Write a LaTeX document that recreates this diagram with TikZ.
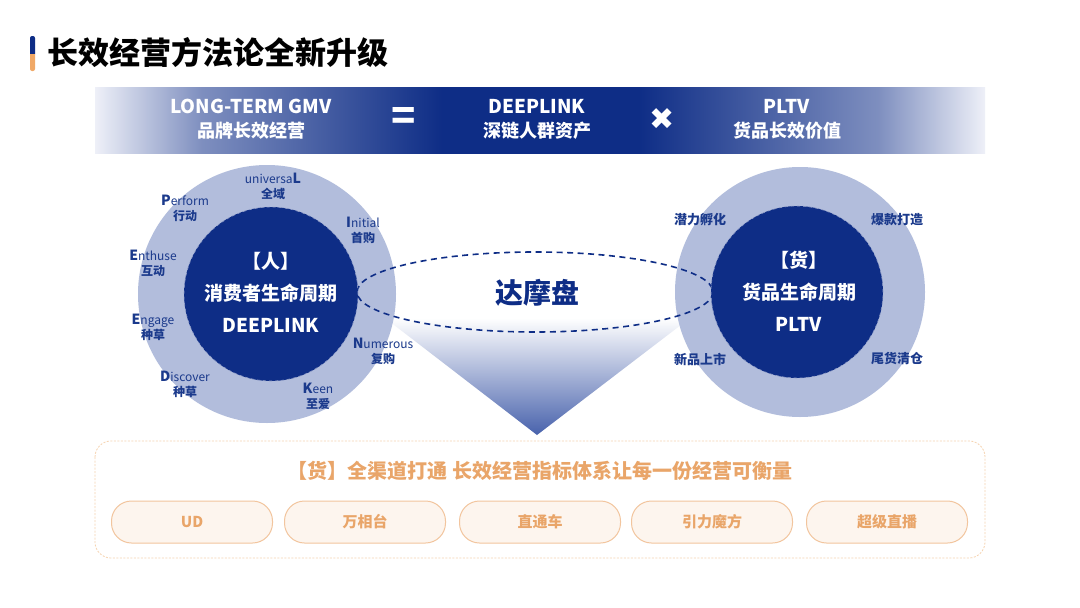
\documentclass[tikz,border=0pt]{standalone}
\usepackage{fontspec}
\setmainfont{Noto Sans CJK SC}
\newfontfamily\symfont{DejaVu Sans}
\usetikzlibrary{shapes.geometric}
\definecolor{navy}{HTML}{0E2D86}
\definecolor{banlight}{HTML}{EEF0F8}
\definecolor{ringc}{HTML}{B2BDDC}
\definecolor{lblc}{HTML}{1B3A8C}
\definecolor{orng}{HTML}{F0A866}
\definecolor{orngtxt}{HTML}{E9A569}
\definecolor{pillbd}{HTML}{F2C59E}
\definecolor{pillfill}{HTML}{FDF5EE}
\definecolor{boxbd}{HTML}{F6D3B0}
\definecolor{trib}{HTML}{4862AC}
\pgfdeclarehorizontalshading{banshade}{100bp}{color(0bp)=(banlight); color(25bp)=(banlight); color(31bp)=(banlight!50!navy); color(44.5bp)=(navy); color(55.5bp)=(navy); color(69bp)=(banlight!50!navy); color(75bp)=(banlight); color(100bp)=(banlight)}
\begin{document}
\begin{tikzpicture}[x=1pt,y=-1pt,
  bantxt/.style={text=white,font=\bfseries\fontsize{19}{21}\selectfont,align=center},
  bansub/.style={text=white,font=\bfseries\fontsize{18}{20}\selectfont},
  innertxt/.style={text=white,font=\bfseries\fontsize{19}{32}\selectfont,align=center},
  lbl/.style={text=lblc,font=\fontsize{12}{15}\selectfont,align=center,inner sep=0},
  rlbl/.style={text=lblc,font=\bfseries\fontsize{13}{15}\selectfont,inner sep=0},
  pill/.style={draw=pillbd,line width=1pt,fill=pillfill,rounded corners=20pt,minimum width=161pt,minimum height=42pt,text=orngtxt,font=\bfseries\fontsize{15}{17}\selectfont}]
\useasboundingbox (0,0) rectangle (1080,608);
\fill[white] (0,0) rectangle (1080,608);
% title
\fill[navy,rounded corners=2pt] (30,36) rectangle (35,56);
\fill[orng,rounded corners=2pt] (30,52) rectangle (35,71);
\fill[navy] (30,50) rectangle (35,54);
\node[anchor=west,font=\bfseries\fontsize{31}{33}\selectfont,inner sep=0] (title) at (47,53) {长效经营方法论全新升级};
% banner
\shade[shading=banshade] (95,87) rectangle (985,153);
\node[bantxt] (gmv) at (251,106) {LONG-TERM GMV};
\node[bansub] (gmvc) at (251,131) {品牌长效经营};
\node[text=white,font=\bfseries\fontsize{40}{40}\selectfont] (eq) at (404,119) {=};
\node[bantxt] (dl) at (537,106) {DEEPLINK};
\node[bansub] (dlc) at (537,131) {深链人群资产};
\node[text=white,font=\symfont\fontsize{30}{30}\selectfont] (times) at (662,119) {✖};
\node[bantxt] (pl) at (787,106) {PLTV};
\node[bansub] (plc) at (787,131) {货品长效价值};
% triangle
\shade[top color=white,bottom color=trib] (385,318) -- (690,318) -- (537,435) -- cycle;
% outer rings
\fill[ringc] (267,294) circle [radius=129];
\fill[ringc] (800,292) circle [radius=125];
% ellipse
\draw[navy,line width=1.6pt,dash pattern=on 6pt off 4.5pt] (535,292) ellipse [x radius=178, y radius=40];
% inner circles
\node[circle,fill=navy,draw=white!55!navy,dashed,line width=0.6pt,minimum size=174pt,inner sep=0] (pc) at (271,294) {};
\node[circle,fill=navy,draw=white!55!navy,dashed,line width=0.6pt,minimum size=172pt,inner sep=0] (gc) at (797,292) {};
\node[innertxt] (pct) at (271,292) {【人】\\消费者生命周期\\DEEPLINK};
\node[innertxt] (gct) at (799,291) {【货】\\货品生命周期\\PLTV};
\node[text=navy,font=\bfseries\fontsize{28}{30}\selectfont] (dmp) at (537,293) {达摩盘};
% left labels
\node[lbl] (l1) at (273,186) {universa{\bfseries\fontsize{14}{15}\selectfont L}\\{\bfseries 全域}};
\node[lbl] (l2) at (185,208) {{\bfseries\fontsize{14}{15}\selectfont P}erform\\{\bfseries 行动}};
\node[lbl] (l3) at (363,230) {{\bfseries\fontsize{14}{15}\selectfont I}nitial\\{\bfseries 首购}};
\node[lbl] (l4) at (153,263) {{\bfseries\fontsize{14}{15}\selectfont E}nthuse\\{\bfseries 互动}};
\node[lbl] (l5) at (153,327) {{\bfseries\fontsize{14}{15}\selectfont E}ngage\\{\bfseries 种草}};
\node[lbl] (l6) at (185,384) {{\bfseries\fontsize{14}{15}\selectfont D}iscover\\{\bfseries 种草}};
\node[lbl] (l7) at (318,396) {{\bfseries\fontsize{14}{15}\selectfont K}een\\{\bfseries 至爱}};
\node[lbl] (l8) at (383,351) {{\bfseries\fontsize{14}{15}\selectfont N}umerous\\{\bfseries 复购}};
% right labels
\node[rlbl] (r1) at (700,220) {潜力孵化};
\node[rlbl] (r2) at (897,220) {爆款打造};
\node[rlbl] (r3) at (700,359) {新品上市};
\node[rlbl] (r4) at (897,359) {尾货清仓};
% bottom box
\draw[boxbd,line width=0.8pt,dash pattern=on 2pt off 1.5pt,rounded corners=16pt] (95,441) rectangle (985,558);
\node[text=orngtxt,font=\bfseries\fontsize{20}{22}\selectfont] (bt) at (540,471) {【货】全渠道打通\ 长效经营指标体系让每一份经营可衡量};
\node[pill] (p1) at (192,522) {UD};
\node[pill] (p2) at (365,522) {万相台};
\node[pill] (p3) at (540,522) {直通车};
\node[pill] (p4) at (712,522) {引力魔方};
\node[pill] (p5) at (887,522) {超级直播};
\end{tikzpicture}
\end{document}
